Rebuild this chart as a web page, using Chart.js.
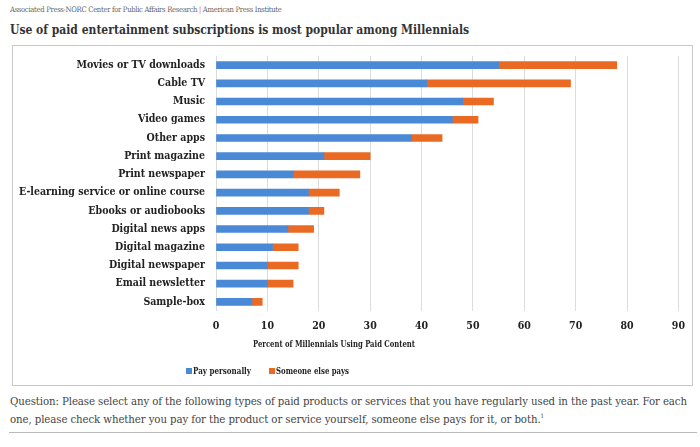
<!DOCTYPE html>
<html>
<head>
<meta charset="utf-8">
<script src="https://cdn.jsdelivr.net/npm/chart.js@4"></script>
<style>
  body { margin: 0; background: #fff; font-family: "DejaVu Serif Condensed", "DejaVu Serif", serif; }
  #wrap { position: relative; width: 700px; height: 447px; overflow: hidden; }
  #source { position: absolute; left: 10px; top: 5px; font-size: 7.6px; color: #666; letter-spacing: -0.3px; white-space: nowrap; }
  #source span { color: #e8692a; }
  #title { position: absolute; left: 10px; top: 23px; font-size: 12px; font-weight: bold; color: #333; white-space: nowrap; }
  #box { position: absolute; left: 12px; top: 45px; width: 681px; height: 341px; border: 1px solid #c8c8c8; box-sizing: border-box; }
  #box canvas { position: absolute; left: 0; top: 0; }
  #question { position: absolute; left: 10px; top: 395px; width: 688px; font-size: 11.35px; line-height: 13.5px; color: #444; letter-spacing: -0.1px; }
  #rule { position: absolute; left: 9px; top: 432px; width: 688px; border-top: 1px solid #bbb; }
</style>
</head>
<body>
<div id="wrap">
  <div id="source">Associated Press-NORC Center for Public Affairs Research <span>|</span> American Press Institute</div>
  <div id="title">Use of paid entertainment subscriptions is most popular among Millennials</div>
  <div id="box"><canvas id="paidChart" width="681" height="341"></canvas></div>
  <div id="question">Question: Please select any of the following types of paid products or services that you have regularly used in the past year. For each one, please check whether you pay for the product or service yourself, someone else pays for it, or both.<sup style="font-size:6px">1</sup></div>
  <div id="rule"></div>
</div>
<script>
// Chart data
const categories = [
    'Movies or TV downloads', 'Cable TV', 'Music', 'Video games', 'Other apps',
    'Print magazine', 'Print newspaper', 'E-learning service or online course',
    'Ebooks or audiobooks', 'Digital news apps', 'Digital magazine',
    'Digital newspaper', 'Email newsletter', 'Sample-box'
];
const payPersonally = [55, 41, 48, 46, 38, 21, 15, 18, 18, 14, 11, 10, 10, 7];
const someoneElsePays = [23, 28, 6, 5, 6, 9, 13, 6, 3, 5, 5, 6, 5, 2];
const xTicks = [0, 10, 20, 30, 40, 50, 60, 70, 80, 90];
const seriesNames = ['Pay personally', 'Someone else pays'];
const seriesColors = ['#4a89d6', '#ea6a24'];

const fontFamily = '"DejaVu Serif Condensed", "DejaVu Serif", serif';
const labelFont = { family: fontFamily, size: 10.5, weight: 'bold' };

// Category labels, axis title and legend drawn by hand (right-aligned / off-centre like the original)
const extrasPlugin = {
    id: 'extras',
    afterDraw(chart) {
        const ctx = chart.ctx;
        const yScale = chart.scales.y;
        ctx.save();
        ctx.fillStyle = '#222';
        ctx.font = 'bold 10.5px ' + fontFamily;
        ctx.textBaseline = 'middle';

        // category labels
        ctx.textAlign = 'right';
        chart.data.labels.forEach((label, i) => {
            ctx.fillText(label, yScale.right - 11, yScale.getPixelForTick(i));
        });

        // axis title
        ctx.font = 'bold 10px ' + fontFamily;
        ctx.textAlign = 'center';
        ctx.fillText('Percent of Millennials Using Paid Content', 321, 298, 162);

        // legend
        ctx.textAlign = 'left';
        const legendWidths = [58, 73];
        let x = 173;
        chart.data.datasets.forEach((ds, i) => {
            ctx.fillStyle = ds.backgroundColor;
            ctx.fillRect(x, 322, 6, 6);
            ctx.fillStyle = '#222';
            ctx.fillText(ds.label, x + 7, 325, legendWidths[i]);
            x += 83;
        });
        ctx.restore();
    }
};

const ctx = document.getElementById('paidChart').getContext('2d');
new Chart(ctx, {
    type: 'bar',
    data: {
        labels: categories,
        datasets: [
            { label: seriesNames[0], data: payPersonally, backgroundColor: seriesColors[0], barThickness: 7 },
            { label: seriesNames[1], data: someoneElsePays, backgroundColor: seriesColors[1], barThickness: 7 }
        ]
    },
    options: {
        indexAxis: 'y',
        responsive: false,
        animation: false,
        layout: { padding: { top: 10, right: 12, bottom: 0, left: 0 } },
        plugins: {
            legend: { display: false },
            tooltip: { enabled: false }
        },
        scales: {
            x: {
                stacked: true,
                min: 0,
                max: 90,
                afterBuildTicks: axis => { axis.ticks = xTicks.map(v => ({ value: v })); },
                grid: { color: '#dcdcdc', drawTicks: false },
                border: { display: false },
                ticks: { color: '#222', font: labelFont, padding: 9 },
                afterFit: axis => { axis.height = 76; }
            },
            y: {
                stacked: true,
                grid: { display: false },
                border: { display: false },
                ticks: { display: false, autoSkip: false },
                afterFit: axis => { axis.width = 203; }
            }
        }
    },
    plugins: [extrasPlugin]
});
</script>
</body>
</html>
